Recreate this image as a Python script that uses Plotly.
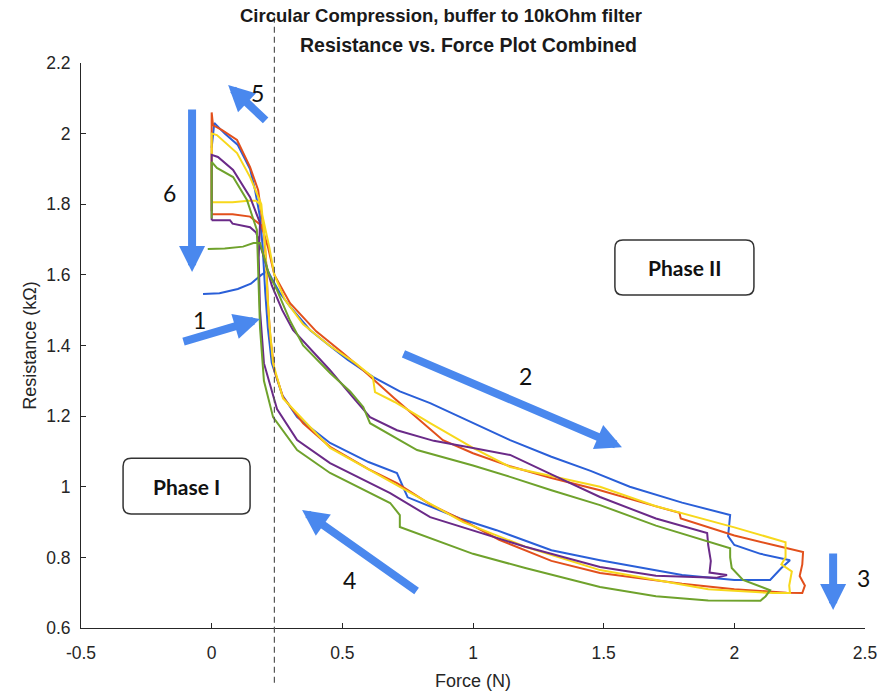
import plotly.graph_objects as go

# ---------------- data (Force N, Resistance kOhm) ----------------
blue_x = [-0.033, 0.03, 0.1, 0.15, 0.19, 0.215, 0.23, 0.26, 0.3, 0.376, 0.45, 0.52, 0.617, 0.72, 0.836,
          1.0, 1.142, 1.3, 1.45, 1.6, 1.8, 1.984, 1.976, 2.0, 2.1, 2.213, 2.18, 2.137, 2.0, 1.8, 1.486,
          1.3, 1.09, 0.95, 0.836, 0.75, 0.735, 0.709, 0.6, 0.453, 0.327, 0.27, 0.23, 0.215, 0.205,
          0.195, 0.185, 0.166, 0.147, 0.1, 0.05, 0.01, 0.0]
blue_y = [1.546, 1.548, 1.56, 1.575, 1.6, 1.612, 1.59, 1.55, 1.51, 1.444, 1.40, 1.36, 1.311, 1.27, 1.237,
          1.18, 1.132, 1.085, 1.045, 1.0, 0.955, 0.92, 0.86, 0.835, 0.81, 0.792, 0.77, 0.736, 0.736, 0.75, 0.792,
          0.82, 0.877, 0.91, 0.943, 0.97, 0.995, 1.039, 1.07, 1.124, 1.197, 1.26, 1.35, 1.45, 1.55,
          1.68, 1.764, 1.84, 1.90, 1.968, 2.0, 2.03, 1.96]

orange_x = [0.0, 0.08, 0.147, 0.19, 0.215, 0.24, 0.3, 0.4, 0.5, 0.58, 0.7, 0.797, 0.885, 1.0, 1.142,
            1.3, 1.486, 1.65, 1.79, 1.795, 2.0, 2.15, 2.263, 2.26, 2.25, 2.27, 2.26, 2.2, 2.0, 1.8,
            1.486, 1.3, 1.1, 0.962, 0.836, 0.709, 0.6, 0.453, 0.35, 0.273, 0.24, 0.225, 0.215, 0.21,
            0.2, 0.178, 0.147, 0.097, 0.04, 0.005, 0.0, 0.0, 0.0]
orange_y = [1.772, 1.772, 1.765, 1.74, 1.68, 1.6, 1.52, 1.44, 1.38, 1.33, 1.25, 1.189, 1.132, 1.095, 1.058,
            1.025, 0.99, 0.955, 0.926, 0.91, 0.862, 0.835, 0.815, 0.78, 0.747, 0.72, 0.699, 0.70, 0.71, 0.725,
            0.756, 0.79, 0.85, 0.905, 0.95, 1.01, 1.05, 1.113, 1.18, 1.254, 1.33, 1.42, 1.52, 1.62,
            1.72, 1.84, 1.905, 1.982, 2.01, 2.024, 2.06, 1.9, 1.78]

yellow_x = [0.0, 0.08, 0.14, 0.17, 0.185, 0.2, 0.22, 0.24, 0.28, 0.35, 0.45, 0.55, 0.617, 0.625, 0.7,
            0.836, 1.0, 1.142, 1.3, 1.486, 1.7, 2.0, 2.196, 2.196, 2.18, 2.22, 2.21, 2.213, 2.148, 1.9,
            1.486, 1.2, 0.962, 0.709, 0.453, 0.273, 0.235, 0.222, 0.213, 0.205, 0.19, 0.147, 0.097,
            0.02, 0.0, 0.0]
yellow_y = [1.806, 1.806, 1.81, 1.81, 1.80, 1.75, 1.68, 1.6, 1.53, 1.46, 1.40, 1.35, 1.31, 1.268, 1.24,
            1.18, 1.11, 1.056, 1.03, 1.0, 0.945, 0.885, 0.843, 0.80, 0.78, 0.76, 0.72, 0.699, 0.699, 0.71,
            0.764, 0.83, 0.90, 1.005, 1.11, 1.25, 1.35, 1.45, 1.55, 1.68, 1.80, 1.877, 1.945,
            1.996, 2.0, 1.81]

purple_x = [0.0, 0.07, 0.08, 0.147, 0.17, 0.2, 0.23, 0.27, 0.311, 0.453, 0.54, 0.606, 0.709, 0.85, 1.0,
            1.142, 1.3, 1.486, 1.7, 1.896, 1.9, 1.91, 1.905, 1.972, 1.93, 1.7, 1.486, 1.2, 0.836, 0.683,
            0.453, 0.327, 0.25, 0.2, 0.185, 0.18, 0.185, 0.147, 0.082, 0.024, 0.0, 0.0]
purple_y = [1.755, 1.755, 1.745, 1.735, 1.72, 1.65, 1.57, 1.50, 1.444, 1.33, 1.254, 1.197, 1.16, 1.13, 1.11,
            1.09, 1.035, 0.971, 0.91, 0.869, 0.835, 0.79, 0.757, 0.75, 0.742, 0.748, 0.773, 0.83, 0.914, 0.982,
            1.067, 1.132, 1.22, 1.35, 1.5, 1.65, 1.747, 1.82, 1.897, 1.934, 1.94, 1.755]

green_x = [-0.015, 0.05, 0.12, 0.16, 0.185, 0.2, 0.22, 0.25, 0.3, 0.35, 0.453, 0.53, 0.58, 0.606, 0.7,
           0.786, 1.0, 1.142, 1.3, 1.486, 1.7, 1.984, 1.984, 1.99, 2.033, 2.137, 2.12, 2.1, 1.9, 1.7,
           1.486, 1.2, 1.0, 0.85, 0.76, 0.72, 0.72, 0.683, 0.453, 0.327, 0.235, 0.2, 0.185, 0.178,
           0.173, 0.135, 0.082, 0.02, 0.0, 0.0]
green_y = [1.673, 1.675, 1.68, 1.69, 1.69, 1.65, 1.6, 1.557, 1.47, 1.40, 1.322, 1.27, 1.226, 1.18, 1.14,
           1.104, 1.06, 1.028, 0.99, 0.948, 0.89, 0.826, 0.80, 0.77, 0.736, 0.707, 0.69, 0.677, 0.678, 0.69,
           0.716, 0.77, 0.81, 0.85, 0.875, 0.886, 0.92, 0.954, 1.039, 1.104, 1.197, 1.3, 1.45, 1.6,
           1.727, 1.812, 1.877, 1.903, 1.92, 1.76]

series = [
    ("blue", blue_x, blue_y, "#2a5fd8"),
    ("orange", orange_x, orange_y, "#e2501c"),
    ("yellow", yellow_x, yellow_y, "#f7d81c"),
    ("purple", purple_x, purple_y, "#6a2a88"),
    ("green", green_x, green_y, "#6fa22c"),
]

x_ticks = [-0.5, 0, 0.5, 1, 1.5, 2, 2.5]
y_ticks = [0.6, 0.8, 1.0, 1.2, 1.4, 1.6, 1.8, 2.0, 2.2]
XMIN, XMAX = -0.5, 2.5
YMIN, YMAX = 0.6, 2.2
DASH_X = 0.24

# arrows: (tip_x, tip_y, ax_px, ay_px) and labels
arrows = [
    (-0.075, 1.608, 0, -164),
    (0.063, 2.138, 39, 37),
    (0.185, 1.475, -78, 23),
    (1.570, 1.112, -220, -94),
    (2.378, 0.651, 0, -58),
    (0.346, 0.934, 116, 82),
]
labels = [("5", 0.177, 2.115), ("6", -0.163, 1.832), ("1", -0.045, 1.472),
          ("2", 1.199, 1.314), ("3", 2.493, 0.742), ("4", 0.529, 0.736)]
phases = [("Phase I", -0.339, 0.147, 0.923, 1.081), ("Phase II", 1.543, 2.075, 1.543, 1.699)]

fig = go.Figure()
for name, xs, ys, col in series:
    fig.add_trace(go.Scatter(x=xs, y=ys, mode="lines", name=name,
                             line=dict(color=col, width=2), showlegend=False))

ann = []
shapes = []
arrow_col = "#4a88ee"
for tx, ty, axp, ayp in arrows:
    ann.append(dict(x=tx, y=ty, xref="x", yref="y", ax=axp, ay=ayp, showarrow=True,
                    arrowhead=2, arrowsize=0.65, arrowwidth=8, arrowcolor=arrow_col, text=""))
for t, lx, ly in labels:
    ann.append(dict(x=lx, y=ly, xref="x", yref="y", text=t, showarrow=False,
                    font=dict(family="Lato, Open Sans, sans-serif", size=23, color="#111")))

# rounded boxes
rx, ry = 8 / 261.3, 8 / 353.1
for t, x0, x1, y0, y1 in phases:
    p = (f"M{x0+rx},{y0} L{x1-rx},{y0} Q{x1},{y0} {x1},{y0+ry} L{x1},{y1-ry} Q{x1},{y1} {x1-rx},{y1} "
         f"L{x0+rx},{y1} Q{x0},{y1} {x0},{y1-ry} L{x0},{y0+ry} Q{x0},{y0} {x0+rx},{y0} Z")
    shapes.append(dict(type="path", path=p, xref="x", yref="y", line=dict(color="#333", width=1.5)))
    ann.append(dict(x=(x0 + x1) / 2, y=(y0 + y1) / 2, xref="x", yref="y", text=f"<b>{t}</b>",
                    showarrow=False, font=dict(family="Lato, Open Sans, sans-serif", size=21, color="#111")))

dash_paper = (DASH_X - XMIN) / (XMAX - XMIN)
shapes.append(dict(type="line", xref="paper", yref="paper", x0=dash_paper, x1=dash_paper,
                   y0=-0.097, y1=1.087, line=dict(color="#555", width=1.2, dash="6px,4px")))

title_font = dict(family="Liberation Sans, Arial, sans-serif", size=18.5, color="#1a1a1a")
title2_font = dict(family="Liberation Sans, Arial, sans-serif", size=19.5, color="#1a1a1a")
ann.append(dict(x=0.459, y=1.084, xref="paper", yref="paper", showarrow=False, yanchor="middle",
                text="<b>Circular Compression, buffer to 10kOhm filter</b>", font=title_font))
ann.append(dict(x=0.494, y=1.031, xref="paper", yref="paper", showarrow=False, yanchor="middle",
                text="<b>Resistance vs. Force Plot Combined</b>", font=title2_font))

axis_font = dict(family="Liberation Sans, Arial, sans-serif", size=17.5, color="#262626")
label_font = dict(family="Liberation Sans, Arial, sans-serif", size=18, color="#262626")
fig.update_layout(
    width=882, height=696,
    margin=dict(l=81, r=17, t=63, b=68, autoexpand=False),
    paper_bgcolor="white", plot_bgcolor="white",
    annotations=ann, shapes=shapes,
    xaxis=dict(range=[XMIN, XMAX], tickvals=x_ticks, ticktext=["%g" % v for v in x_ticks],
               showgrid=False, zeroline=False, showline=True, linecolor="#262626", linewidth=1,
               ticks="inside", ticklen=5, tickcolor="#262626", tickfont=axis_font, automargin=False,
               title=dict(text="Force (N)", font=label_font, standoff=12),
               ticklabelstandoff=9),
    yaxis=dict(range=[YMIN, YMAX], tickvals=y_ticks, ticktext=["%g" % v for v in y_ticks],
               showgrid=False, zeroline=False, showline=True, linecolor="#262626", linewidth=1,
               ticks="inside", ticklen=5, tickcolor="#262626", tickfont=axis_font, automargin=False,
               title=dict(text="Resistance (kΩ)", font=label_font, standoff=4),
               ticklabelstandoff=6),
)

fig.write_html("out.html")
